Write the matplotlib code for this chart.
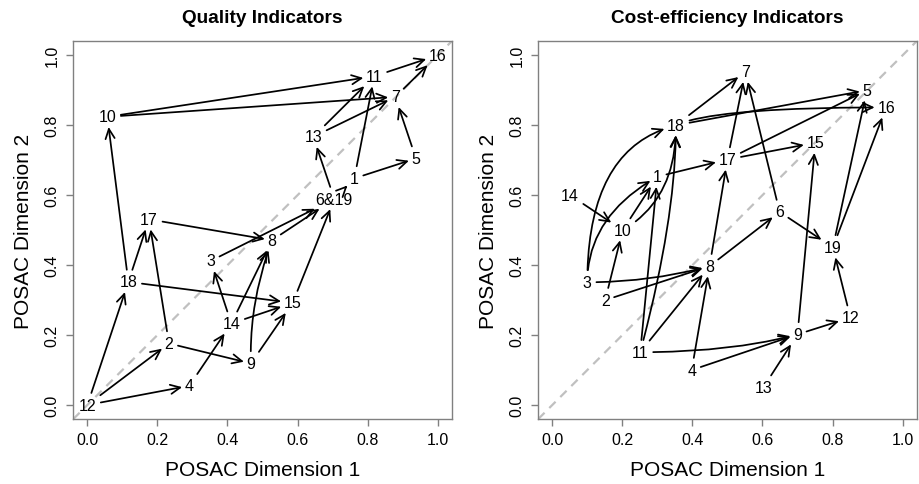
import matplotlib
matplotlib.use("Agg")
import matplotlib.pyplot as plt
from matplotlib.patches import FancyArrowPatch
from matplotlib import font_manager

plt.rcParams['font.family'] = ['Liberation Sans', 'DejaVu Sans']
_names = {f.name for f in font_manager.fontManager.ttflist}
HAS_NARROW = 'Liberation Sans Narrow' in _names
NARROW = ['Liberation Sans Narrow', 'Liberation Sans', 'DejaVu Sans']

# ---------------- data: Quality Indicators ----------------
q_labels = ['1', '2', '3', '4', '5', '6&19', '7', '8', '9', '10', '11', '12',
            '13', '14', '15', '16', '17', '18']
q_x = [0.762, 0.233, 0.352, 0.291, 0.938, 0.705, 0.879, 0.527, 0.467, 0.057,
       0.819, 0.000, 0.645, 0.411, 0.586, 1.000, 0.176, 0.117]
q_y = [0.648, 0.176, 0.412, 0.055, 0.705, 0.589, 0.881, 0.471, 0.119, 0.824,
       0.940, 0.000, 0.767, 0.233, 0.292, 1.000, 0.531, 0.352]
q_edges = [('12', '18'), ('12', '2'), ('12', '4'), ('18', '10'), ('18', '17'),
           ('18', '15'), ('2', '17'), ('2', '9'), ('4', '14'), ('14', '3'),
           ('14', '8'), ('14', '15'), ('9', '8'), ('9', '15'), ('17', '8'),
           ('3', '6&19'), ('8', '6&19'), ('15', '6&19'), ('6&19', '13'),
           ('6&19', '1'), ('1', '5'), ('1', '11'), ('13', '11'), ('13', '7'),
           ('5', '7'), ('10', '11'), ('10', '7'), ('11', '16'), ('7', '16')]

# ---------------- data: Cost-efficiency Indicators ----------------
c_labels = ['1', '2', '3', '4', '5', '6', '7', '8', '9', '10', '11', '12',
            '13', '14', '15', '16', '17', '18', '19']
c_x = [0.300, 0.151, 0.100, 0.398, 0.898, 0.649, 0.551, 0.449, 0.700, 0.201,
       0.251, 0.851, 0.603, 0.051, 0.751, 0.953, 0.500, 0.353, 0.801]
c_y = [0.653, 0.300, 0.351, 0.100, 0.900, 0.552, 0.953, 0.397, 0.202, 0.500,
       0.151, 0.250, 0.051, 0.600, 0.750, 0.851, 0.702, 0.800, 0.451]
c_edges = [('3', '18'), ('3', '1'), ('3', '8'), ('2', '10'), ('2', '8'),
           ('14', '10'), ('10', '1'), ('10', '18'), ('11', '1'), ('11', '18'),
           ('11', '8'), ('11', '9'), ('4', '8'), ('4', '9'), ('13', '9'),
           ('9', '12'), ('9', '15'), ('12', '19'), ('8', '6'), ('8', '17'),
           ('6', '19'), ('6', '7'), ('1', '17'), ('17', '7'), ('17', '5'),
           ('17', '15'), ('18', '7'), ('18', '5'), ('18', '16'), ('19', '5'),
           ('19', '16')]

ticks = [0.0, 0.2, 0.4, 0.6, 0.8, 1.0]
tick_labels = ['0.0', '0.2', '0.4', '0.6', '0.8', '1.0']

# curved arrows (tangent angles at start / end)
q_curves = {('9', '8'): (92, 70)}
c_curves = {('3', '18'): (90, 15), ('3', '1'): (90, 30), ('3', '8'): (0, 15),
            ('10', '18'): (30, 90), ('11', '18'): (75, 90), ('11', '9'): (0, 15),
            ('18', '16'): (25, 0)}

node_fs = 13 if HAS_NARROW else 11.5
tick_fs = 13 if HAS_NARROW else 11.5

fig = plt.figure(figsize=(9.19, 4.85), dpi=100)
ax1 = fig.add_axes([0.0798, 0.134, 0.4117, 0.7788])
ax2 = fig.add_axes([0.5857, 0.134, 0.4117, 0.7788])


def panel(ax, title, labels, xs, ys, edges, curves):
    ax.set_xlim(-0.04, 1.04)
    ax.set_ylim(-0.04, 1.04)
    ax.plot([-0.04, 1.04], [-0.04, 1.04], linestyle=(0, (4, 3)),
            color='#c0c0c0', lw=1.6, zorder=1)
    pos = {lab: (x, y) for lab, x, y in zip(labels, xs, ys)}
    texts = {}
    for lab, x, y in zip(labels, xs, ys):
        texts[lab] = ax.text(x, y, lab, ha='center', va='center',
                             fontsize=node_fs, family=NARROW, zorder=3,
                             bbox=dict(boxstyle='square,pad=0.12', fc='none',
                                       ec='none'))
    for a, b in edges:
        if (a, b) in curves:
            aA, aB = curves[(a, b)]
            cs = f"angle3,angleA={aA},angleB={aB}"
        else:
            cs = "arc3,rad=0"
        p = FancyArrowPatch(pos[a], pos[b],
                            arrowstyle='->,head_length=0.7,head_width=0.33',
                            mutation_scale=10, lw=1.25, color='black',
                            patchA=texts[a].get_bbox_patch(),
                            patchB=texts[b].get_bbox_patch(),
                            shrinkA=2, shrinkB=0.5, connectionstyle=cs,
                            zorder=2)
        ax.add_patch(p)
    ax.set_xticks(ticks)
    ax.set_xticklabels(tick_labels, family=NARROW)
    ax.set_yticks(ticks)
    ax.set_yticklabels(tick_labels, rotation=90, va='center', family=NARROW)
    for s in ax.spines.values():
        s.set_color('#808080')
        s.set_linewidth(1.0)
    ax.tick_params(axis='both', length=5, width=1.0, color='#808080',
                   labelsize=tick_fs)
    ax.tick_params(axis='x', pad=4)
    ax.tick_params(axis='y', pad=5)
    ax.set_xlabel('POSAC Dimension 1', fontsize=15, labelpad=10)
    ax.set_ylabel('POSAC Dimension 2', fontsize=15, labelpad=8)
    ax.set_title(title, fontsize=13.7, fontweight='bold', pad=14)


panel(ax1, 'Quality Indicators', q_labels, q_x, q_y, q_edges, q_curves)
panel(ax2, 'Cost-efficiency Indicators', c_labels, c_x, c_y, c_edges, c_curves)

fig.canvas.draw()
fig.savefig('out.png', dpi=100)
